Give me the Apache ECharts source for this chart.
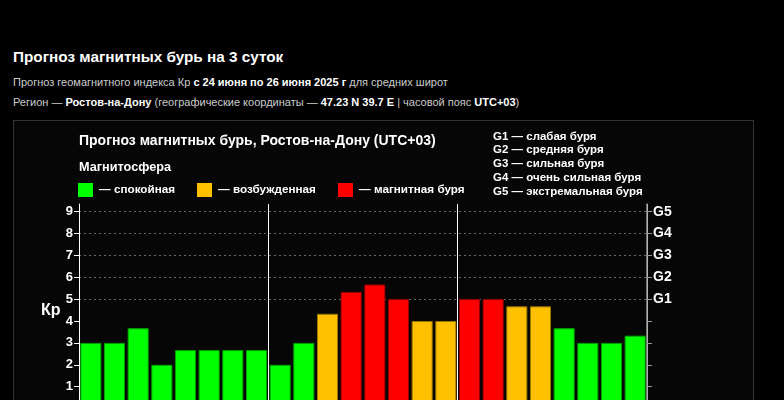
<!DOCTYPE html>
<html><head><meta charset="utf-8">
<script src="https://cdn.jsdelivr.net/npm/echarts@6/dist/echarts.min.js"></script>
<style>
html,body{margin:0;padding:0;background:#000;width:784px;height:400px;overflow:hidden;font-family:"Liberation Sans",Arial,sans-serif;}
#h1{position:absolute;left:13px;top:48px;font-size:15.3px;font-weight:bold;color:#fff;white-space:nowrap;}
.sub{position:absolute;left:13px;font-size:11px;color:#ccc;white-space:nowrap;}
.sub b{color:#fff;}
#panel{position:absolute;left:13px;top:120px;width:739px;height:400px;border:1px solid #333;background:#060606;}
#chart{position:absolute;left:0;top:0;width:784px;height:460px;}
</style></head>
<body>
<div id="h1">Прогноз магнитных бурь на 3 суток</div>
<div class="sub" style="top:76px">Прогноз геомагнитного индекса Кр <b>с 24 июня по 26 июня 2025 г</b> для средних широт</div>
<div class="sub" style="top:95.5px">Регион — <b>Ростов-на-Дону</b> (географические координаты — <b>47.23 N 39.7 E</b> | часовой пояс <b>UTC+03</b>)</div>
<div id="panel"></div>
<div id="chart"></div>
<script>
const hours = ['00-03','03-06','06-09','09-12','12-15','15-18','18-21','21-00'];
const days = ['24.06','25.06','26.06'];
const kpValues = [3, 3, 3.67, 2, 2.67, 2.67, 2.67, 2.67,
                  2, 3, 4.33, 5.33, 5.67, 5, 4, 4,
                  5, 5, 4.67, 4.67, 3.67, 3, 3, 3.33];
const gLabels = ['G1','G2','G3','G4','G5'];
const kpTicks = ['1','2','3','4','5','6','7','8','9'];
const legendItems = ['— спокойная','— возбужденная','— магнитная буря'];
const gLegend = ['G1 — слабая буря','G2 — средняя буря','G3 — сильная буря','G4 — очень сильная буря','G5 — экстремальная буря'];

const categories = [];
days.forEach(d => hours.forEach(h => categories.push(d + ' ' + h)));

function colorFor(v){ return v >= 5 ? ['#ff0000','#990000'] : (v >= 4 ? ['#ffc000','#9a7400'] : ['#00ff00','#00a000']); }

const chart = echarts.init(document.getElementById('chart'), null, {renderer:'canvas'});
const FONT = 'Liberation Sans';
const legendColors = ['#00ff00','#ffc000','#ff0000'];
const legendX = [78, 197, 338];
const graphics = [
  {type:'text', left:79, top:134, style:{text:'Прогноз магнитных бурь, Ростов-на-Дону (UTC+03)', fill:'#fff', font:'bold 14px ' + FONT}},
  {type:'text', left:79, top:161, style:{text:'Магнитосфера', fill:'#fff', font:'bold 12.7px ' + FONT}},
  {type:'text', left:41, top:303, style:{text:'Кр', fill:'#fff', font:'bold 16px ' + FONT}}
];
legendItems.forEach((t,i)=>{
  graphics.push({type:'rect', shape:{x:legendX[i], y:183, width:15, height:14}, style:{fill:legendColors[i]}});
  graphics.push({type:'text', left:legendX[i]+21, top:183.5, style:{text:t, fill:'#fff', font:'bold 11.7px ' + FONT}});
});
gLegend.forEach((t,i)=>{
  graphics.push({type:'text', left:493, top:130.5 + i*13.8, style:{text:t, fill:'#fff', font:'bold 11.5px ' + FONT}});
});

chart.setOption({
  backgroundColor:'transparent',
  animation:false,
  grid:{left:79, right:137, top:204, bottom:51.5, containLabel:false},
  graphic: graphics,
  xAxis:[{
    type:'category', data:categories, boundaryGap:true,
    axisLine:{lineStyle:{color:'#fff'}}, axisTick:{show:false}, axisLabel:{show:false},
    splitLine:{show:true, interval:function(i){return i===8||i===16;}, lineStyle:{color:'#fff', width:1, type:'solid'}}
  },{
    type:'category', data:categories, position:'top', boundaryGap:true,
    axisLine:{show:true, lineStyle:{color:'#fff', width:1.5}}, axisTick:{show:false}, axisLabel:{show:false}, splitLine:{show:false}
  }],
  yAxis:[{
    type:'value', min:0, max:9.35, interval:1, position:'left',
    axisLine:{show:true, lineStyle:{color:'#fff', width:1}},
    axisTick:{show:true, length:5, lineStyle:{color:'#fff'}},
    axisLabel:{showMaxLabel:false, showMinLabel:false, color:'#fff', fontWeight:'bold', fontSize:13, fontFamily:FONT, margin:6,
      formatter:function(v){ return kpTicks.indexOf(String(v))>=0 ? String(v) : ''; }},
    splitLine:{show:true, lineStyle:{type:[2,3], width:1,
      color:['rgba(0,0,0,0)','rgba(0,0,0,0)','rgba(0,0,0,0)','rgba(0,0,0,0)','rgba(0,0,0,0)','#666','#666','#666','#666','#666','rgba(0,0,0,0)']}}
  },{
    type:'value', min:0, max:9.35, interval:1, position:'right',
    axisLine:{show:true, lineStyle:{color:'#999', width:1.5}},
    axisTick:{show:true, length:5, lineStyle:{color:'#999'}},
    axisLabel:{showMaxLabel:false, color:'#fff', fontWeight:'bold', fontSize:14, fontFamily:FONT, margin:6,
      formatter:function(v){ return v>=5 && v<=9 && Number.isInteger(v) ? gLabels[v-5] : ''; }},
    splitLine:{show:false}
  }],
  series:[{
    type:'bar', xAxisIndex:0, yAxisIndex:0, barCategoryGap:'11%',
    data: kpValues.map(v => ({value:v, itemStyle:{color:colorFor(v)[0], borderColor:colorFor(v)[1], borderWidth:1}}))
  }]
});
</script>
</body></html>
